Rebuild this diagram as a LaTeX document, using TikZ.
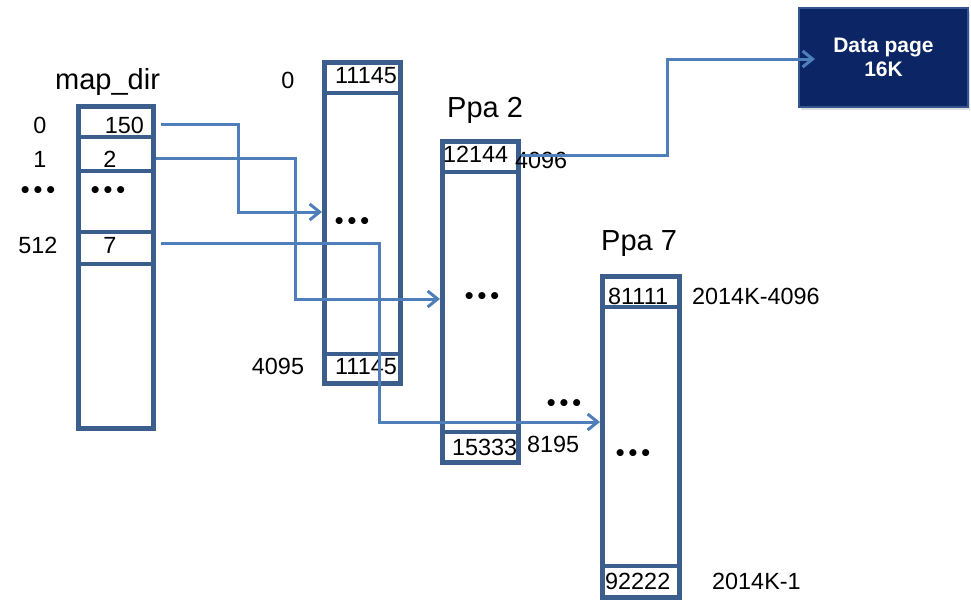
\documentclass[tikz,border=0pt]{standalone}
\usepackage{fontspec}
\setmainfont{Liberation Sans}
\newfontfamily\dejavu{DejaVu Sans}
\usetikzlibrary{arrows.meta,shadows}
\definecolor{boxc}{HTML}{3B5E8C}
\definecolor{arrc}{HTML}{4F7FBA}
\definecolor{navy}{HTML}{0B2565}
\definecolor{navyedge}{HTML}{34558F}
\begin{document}
\begin{tikzpicture}[x=1pt,y=-1pt,
 col/.style={draw=boxc, line width=4.5pt, inner sep=0pt, anchor=north west},
 div/.style={draw=boxc, line width=4pt},
 arr/.style={draw=arrc, line width=3pt, -{Straight Barb[length=10pt,width=16pt,line width=3pt]}},
 num/.style={inner sep=0pt, font=\fontsize{23.4}{26}\selectfont},
 ttl/.style={inner sep=0pt, font=\fontsize{29}{32}\selectfont},
 dots/.style={inner sep=0pt, font=\dejavu\bfseries\fontsize{20}{22}\selectfont},
]
\useasboundingbox (0,0) rectangle (971,605);
% columns
\node[col, minimum width=75pt, minimum height=322pt] (md) at (76,104) {};
\node[col, minimum width=76pt, minimum height=321pt] (b2) at (322,60) {};
\node[col, minimum width=76pt, minimum height=321pt] (b3) at (440,139) {};
\node[col, minimum width=77pt, minimum height=321pt] (b4) at (600,274) {};
% dividers
\draw[div] (md.west |- 0,137) -- (md.east |- 0,137);
\draw[div] (md.west |- 0,171) -- (md.east |- 0,171);
\draw[div] (md.west |- 0,232) -- (md.east |- 0,232);
\draw[div] (md.west |- 0,264) -- (md.east |- 0,264);
\draw[div] (b2.west |- 0,93) -- (b2.east |- 0,93);
\draw[div] (b2.west |- 0,354) -- (b2.east |- 0,354);
\draw[div] (b3.west |- 0,172) -- (b3.east |- 0,172);
\draw[div] (b3.west |- 0,432) -- (b3.east |- 0,432);
\draw[div] (b4.west |- 0,307) -- (b4.east |- 0,307);
\draw[div] (b4.west |- 0,566) -- (b4.east |- 0,566);
% data page
\node[anchor=north west, minimum width=169pt, minimum height=99pt, fill=navy, draw=navyedge, line width=2pt,
  drop shadow={opacity=0.25, shadow xshift=2pt, shadow yshift=-3pt},
  text=white, font=\bfseries\fontsize{21}{24}\selectfont, align=center] (db) at (798,7) {Data page\\16K};
% labels map_dir
\node[ttl, anchor=base west] (tmd) at (55,89) {map\_dir};
\node[num, anchor=base] (i0) at (40,133) {0};
\node[num, anchor=base east] (n150) at (144,133) {150};
\node[num, anchor=base] (i1) at (40,167) {1};
\node[num, anchor=base] (n2) at (110,167) {2};
\node[dots] (d1) at (38,192) {•••};
\node[dots] (d2) at (108,192) {•••};
\node[num, anchor=base] (i512) at (38,253) {512};
\node[num, anchor=base] (n7) at (110,253) {7};
% box 2
\node[num, anchor=base] (j0) at (288,88) {0};
\node[num, anchor=base west] (t1) at (335,83) {11145};
\node[dots] (d3) at (352,223) {•••};
\node[num, anchor=base] (j4095) at (278,374) {4095};
\node[num, anchor=base west] (t2) at (335,374) {11145};
% box 3
\node[ttl, anchor=base west] (p2) at (447,117) {Ppa 2};
\node[num, anchor=base west] (t3) at (443,162) {12144};
\node[num, anchor=base west] (l4096) at (515,168) {4096};
\node[dots] (d4) at (482,298) {•••};
\node[num, anchor=base west] (t4) at (452,455) {15333};
\node[num, anchor=base west] (l8195) at (527,452) {8195};
\node[dots] (d5) at (564,405) {•••};
% box 4
\node[ttl, anchor=base west] (p7) at (601,250) {Ppa 7};
\node[num, anchor=base west] (t5) at (608,304) {81111};
\node[num, anchor=base west] (l1) at (692,304) {2014K-4096};
\node[dots] (d6) at (633,455) {•••};
\node[num, anchor=base west] (t6) at (605,589) {92222};
\node[num, anchor=base west] (l2) at (712,589) {2014K-1};
% connectors
\coordinate (k1) at (238,212);
\coordinate (k2) at (295,299);
\coordinate (k3) at (379,422);
\coordinate (k4) at (667,155);
\coordinate (k5) at (667,59);
\draw[arr] ([xshift=5pt]md.east |- 0,124) -| (k1) -- (k1 -| b2.west);
\draw[arr] (md.east |- 0,158) -| (k2) -- (k2 -| b3.west);
\draw[arr] ([xshift=5pt]md.east |- 0,243) -| (k3) -- (k3 -| b4.west);
\draw[arr] (b3.east |- k4) -- (k4) -- (k5) -- ([xshift=17pt]db.west |- k5);
\end{tikzpicture}
\end{document}
